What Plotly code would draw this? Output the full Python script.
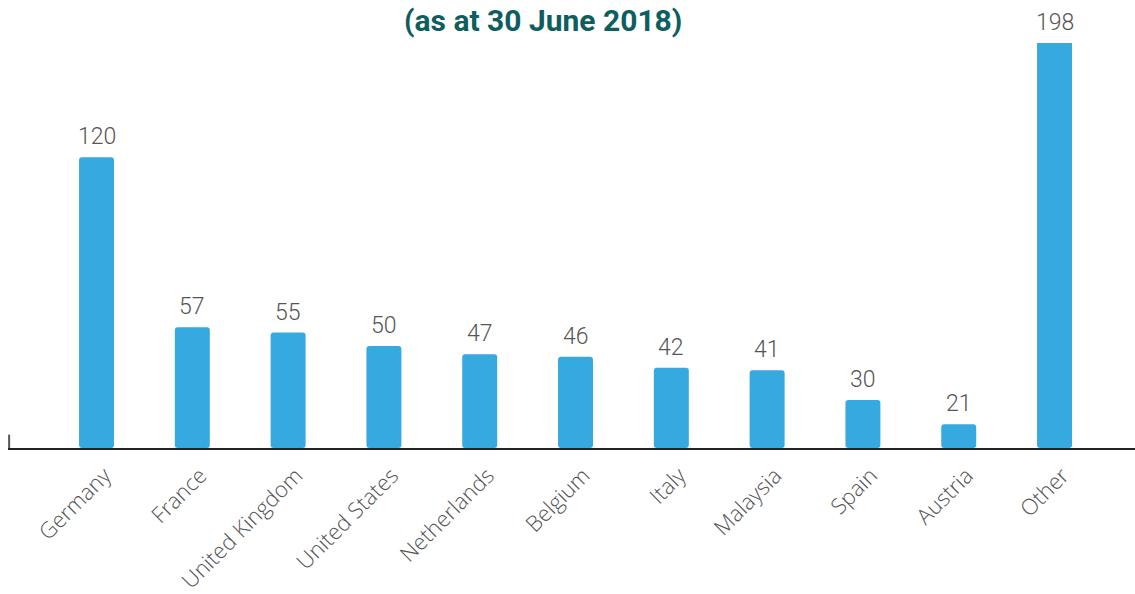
import plotly.graph_objects as go

# Country breakdown (as at 30 June 2018)
countries = ["Germany", "France", "United Kingdom", "United States", "Netherlands",
             "Belgium", "Italy", "Malaysia", "Spain", "Austria", "Other"]
counts = [120, 57, 55, 50, 47, 46, 42, 41, 30, 21, 198]

title_text = "(as at 30 June 2018)"

BAR_COLOR = "#36A9E0"
LABEL_COLOR = "#555555"
TITLE_COLOR = "#0E5E60"

# value axis starts above zero; the tallest bar runs past the top of the scale
y_min, y_max = 12.2, 162.4

fig = go.Figure(
    go.Bar(
        x=countries,
        y=[v - y_min for v in counts],  # bars stand on the axis floor
        base=y_min,
        width=0.365,
        marker=dict(color=BAR_COLOR, line=dict(width=0)),
        hoverinfo="skip",
    )
)

# value labels above each bar
for c, v in zip(countries, counts):
    fig.add_annotation(
        x=c, y=min(v, y_max), xref="x", yref="y",
        text=str(v), showarrow=False, yanchor="bottom", yshift=5,
        font=dict(family="Roboto", size=23, color=LABEL_COLOR, weight=300),
    )

fig.add_annotation(
    x=0.4747, y=1.1032, xref="paper", yref="paper",
    text=f"<b>{title_text}</b>", showarrow=False, yanchor="top", xanchor="center",
    font=dict(family="Roboto", size=30, color=TITLE_COLOR),
)

# short stub at the left end of the baseline
fig.add_shape(type="line", xref="paper", yref="paper", x0=0.001, x1=0.001, y0=0, y1=0.033,
              line=dict(color="#555555", width=2))

fig.update_layout(
    width=1135, height=594,
    margin=dict(l=8, r=0, t=43, b=144),
    paper_bgcolor="white", plot_bgcolor="white",
    showlegend=False,
    barcornerradius=3,
    xaxis=dict(
        range=[-0.924, 10.84],
        showline=True, linecolor="#222222", linewidth=2,
        showgrid=False, zeroline=False, ticks="",
        tickangle=-45,
        ticklabelshift=8, ticklabelstandoff=4,
        tickfont=dict(family="Open Sans", size=22, color=LABEL_COLOR, weight=300),
    ),
    yaxis=dict(
        range=[y_min, y_max],
        showgrid=False, zeroline=False, showline=False,
        showticklabels=False, ticks="",
    ),
)

fig.write_html("out.html")
